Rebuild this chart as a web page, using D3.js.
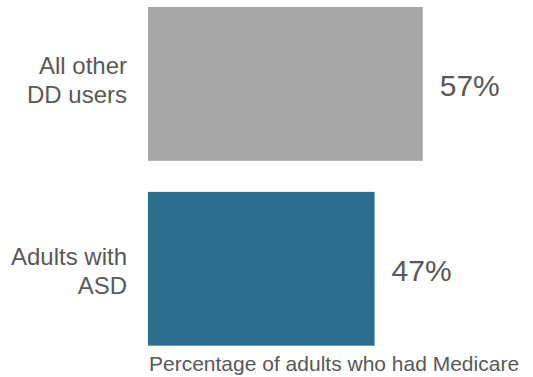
<!DOCTYPE html>
<html>
<head>
<meta charset="utf-8">
<script src="https://cdn.jsdelivr.net/npm/d3@7"></script>
<style>
  html, body { margin: 0; padding: 0; background: #fff; }
  svg { display: block; }
  text { font-family: "Liberation Sans", Arial, Helvetica, sans-serif; fill: #595959; }
</style>
</head>
<body>
<svg id="chart" width="533" height="377"></svg>
<script>
const categories = [["All other", "DD users"], ["Adults with", "ASD"]];
const values = [57, 47];
const valueLabels = ["57%", "47%"];
const colors = ["#a6a6a6", "#2b6e8e"];
const axisTitle = "Percentage of adults who had Medicare";

const svg = d3.select("#chart");
const x = d3.scaleLinear().domain([0, 100]).range([148, 630]);
const y = d3.scaleBand().domain(d3.range(values.length)).range([7, 345.7]).paddingInner(0.168).paddingOuter(0);
const yLabel = d3.scalePoint().domain(d3.range(values.length)).range([88.4, 279.7]);

svg.selectAll("rect.bar").data(values).join("rect")
  .attr("class", "bar")
  .attr("x", x(0))
  .attr("y", (d, i) => y(i))
  .attr("width", d => x(d) - x(0))
  .attr("height", y.bandwidth())
  .attr("fill", (d, i) => colors[i]);

svg.selectAll("text.val").data(values).join("text")
  .attr("class", "val")
  .attr("x", d => x(d) + 17)
  .attr("y", (d, i) => y(i) + y.bandwidth() / 2)
  .attr("dy", "0.41em")
  .style("font-size", "30px")
  .text((d, i) => valueLabels[i]);

const cat = svg.selectAll("text.cat").data(categories).join("text")
  .attr("class", "cat")
  .attr("text-anchor", "end")
  .attr("x", 127)
  .attr("y", (d, i) => yLabel(i))
  .style("font-size", "24px");
cat.selectAll("tspan").data(d => d).join("tspan")
  .attr("x", 127)
  .attr("dy", (d, j) => j === 0 ? "-0.6em" : "1.2em")
  .text(d => d);

svg.append("text")
  .attr("x", 149)
  .attr("y", 371)
  .style("font-size", "21px")
  .text(axisTitle);
</script>
</body>
</html>
